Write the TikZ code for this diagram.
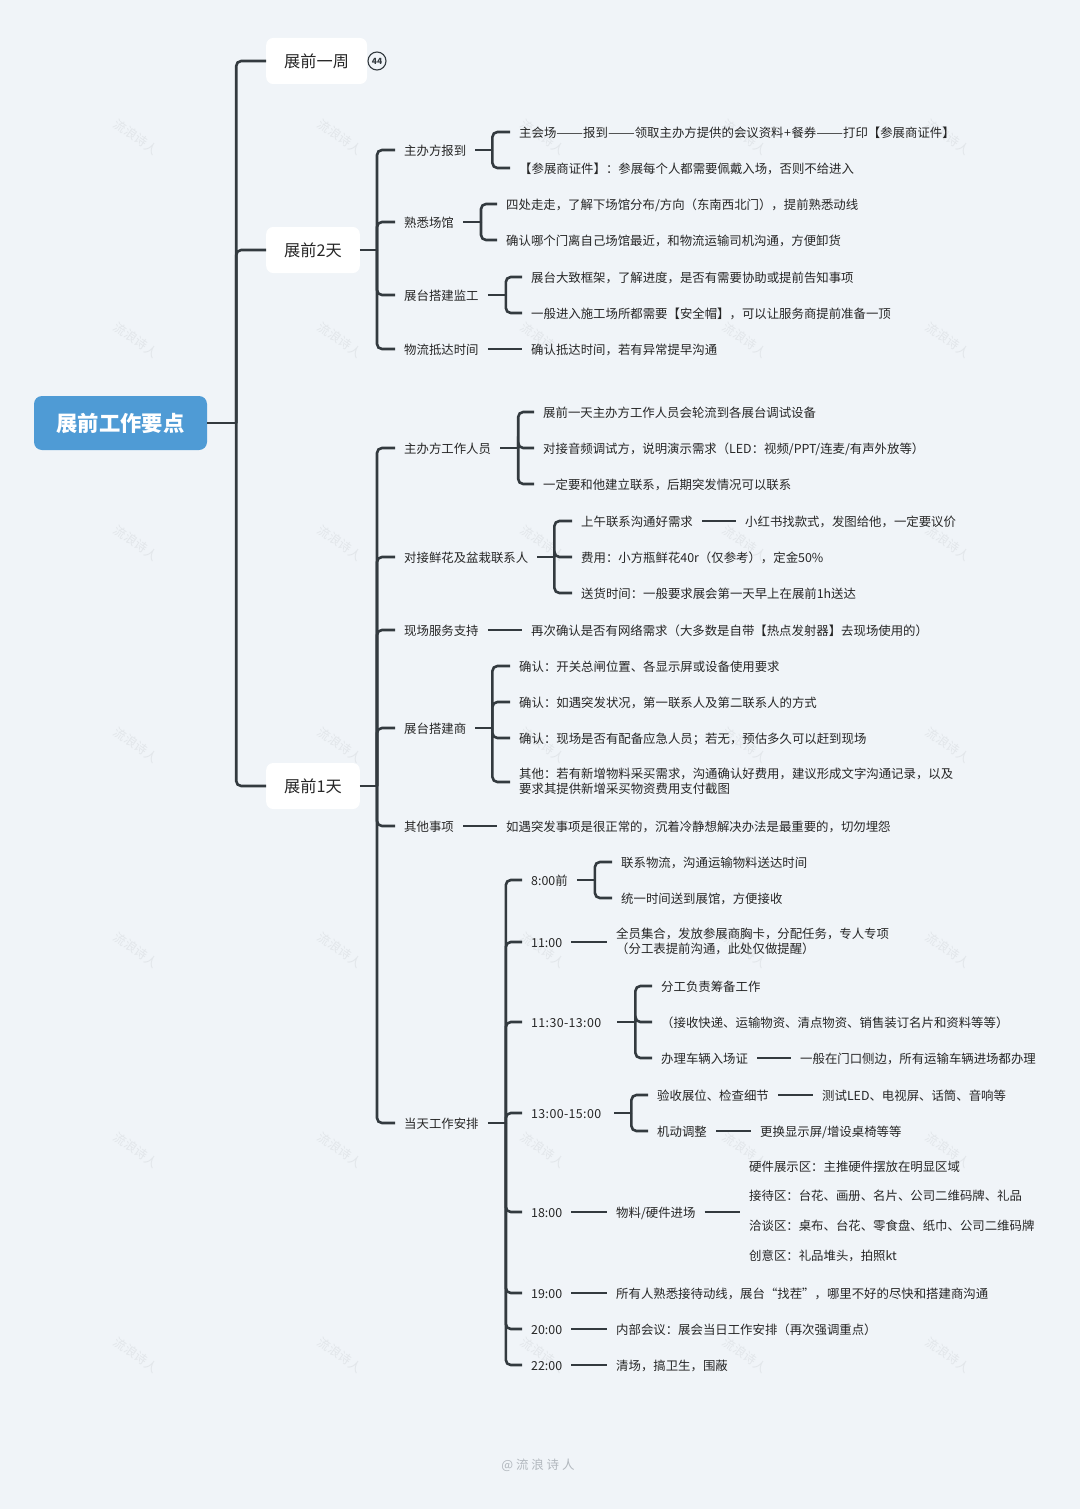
\documentclass[tikz,border=0pt]{standalone}
\usepackage{fontspec}
\setmainfont{Noto Sans CJK SC}
\usepackage{xcolor}
\usepackage{graphicx}
\usetikzlibrary{positioning,calc}
\definecolor{pagebg}{RGB}{240,244,248}
\definecolor{rootblue}{RGB}{79,155,213}
\definecolor{linedark}{RGB}{51,58,63}
\definecolor{inkdark}{RGB}{38,38,38}
\definecolor{markgray}{RGB}{226,230,234}
\definecolor{signgray}{RGB}{178,184,190}
\newcommand{\forkto}[3]{\draw[link] (#1.east) -- ++(#2,0) coordinate (#1spine);
  \foreach \kid in {#3} \draw[link] (#1spine) |- (\kid.west);}
\newcommand{\dashpair}{\scalebox{1.29}[1]{——}}
\newcommand{\widetime}[1]{{\addfontfeature{LetterSpace=3}#1}}
\tikzset{
  rootbox/.style={fill=rootblue,rounded corners=8pt,minimum width=173pt,minimum height=54pt,inner sep=0pt,text=white,font=\fontsize{21.3}{26}\selectfont\bfseries},
  topicbox/.style={fill=white,rounded corners=7pt,anchor=west,minimum height=46pt,inner xsep=18pt,inner ysep=0pt,text=inkdark,font=\fontsize{16.2}{20}\selectfont},
  itembox/.style={anchor=west,inner xsep=9pt,inner ysep=1pt,align=left,text=inkdark,font=\fontsize{12.4}{15}\selectfont,execute at begin node={\rule[-3pt]{0pt}{16pt}}},
  link/.style={line width=2.6pt,draw=linedark,rounded corners=5pt},
  wmark/.style={rotate=-35,text=markgray,font=\fontsize{12.5}{15}\selectfont},
}
\begin{document}
\begin{tikzpicture}[x=1pt,y=-1pt]
  \fill[pagebg] (0,0) rectangle (1080,1509);
  \useasboundingbox (0,0) rectangle (1080,1509);
  % watermarks
  \foreach \mx in {136,340,543,745,948}
    \foreach \my in {137,340,543,745,950,1150,1355}
      \node[wmark] (mark\mx\my) at (\mx,\my) {流浪诗人};
  \node[font=\fontsize{12.5}{15}\selectfont,text=signgray] (sign) at (538,1465) {@ 流 浪 诗 人};
  % root and day topics
  \node[rootbox] (root) at (120.5,423) {展前工作要点};
  \node[topicbox] (week) at (266,61) {展前一周};
  \node[draw=linedark,circle,line width=1.1pt,minimum size=18pt,inner sep=0pt,text=linedark,font=\fontsize{8.5}{10}\selectfont\bfseries] (weekmark) at (377,61) {44};
  \node[topicbox] (twoday) at (266,250) {展前2天};
  \node[topicbox] (oneday) at (266,786) {展前1天};
  \forkto{root}{29}{week,twoday,oneday}
  % two days before
  \node[itembox] (host) at (395,150) {主办方报到};
  \node[itembox] (hostA) at (510,132) {主会场\dashpair 报到\dashpair 领取主办方提供的会议资料{\kern.5pt+\kern.5pt}餐券\dashpair 打印【参展商证件】};
  \node[itembox] (hostB) at (510,168) {【参展商证件】：参展每个人都需要佩戴入场，否则不给进入};
  \node[itembox] (venue) at (395,222) {熟悉场馆};
  \node[itembox] (venueA) at (497,204) {四处走走，了解下场馆分布/方向（东南西北门），提前熟悉动线};
  \node[itembox] (venueB) at (497,240) {确认哪个门离自己场馆最近，和物流运输司机沟通，方便卸货};
  \node[itembox] (build) at (395,295) {展台搭建监工};
  \node[itembox] (buildA) at (522,277) {展台大致框架，了解进度，是否有需要协助或提前告知事项};
  \node[itembox] (buildB) at (522,313) {一般进入施工场所都需要【安全帽】，可以让服务商提前准备一顶};
  \node[itembox] (ship) at (395,349) {物流抵达时间};
  \node[itembox] (shipA) at (522,349) {确认抵达时间，若有异常提早沟通};
  \forkto{twoday}{17}{host,venue,build,ship}
  \forkto{host}{17}{hostA,hostB}
  \forkto{venue}{18}{venueA,venueB}
  \forkto{build}{18}{buildA,buildB}
  \draw[link] (ship.east) -- (shipA.west);
  % one day before
  \node[itembox] (staff) at (395,448) {主办方工作人员};
  \node[itembox] (staffA) at (534,412) {展前一天主办方工作人员会轮流到各展台调试设备};
  \node[itembox] (staffB) at (534,448) {对接音频调试方，说明演示需求（LED：视频/PPT/连麦/有声外放等）};
  \node[itembox] (staffC) at (534,484) {一定要和他建立联系，后期突发情况可以联系};
  \node[itembox] (flower) at (395,557) {对接鲜花及盆栽联系人};
  \node[itembox] (flowerA) at (572,521) {上午联系沟通好需求};
  \node[itembox] (flowerAx) at (736,521) {小红书找款式，发图给他，一定要议价};
  \node[itembox] (flowerB) at (572,557) {费用：小方瓶鲜花40r（仅参考），定金50\%};
  \node[itembox] (flowerC) at (572,593) {送货时间：一般要求展会第一天早上在展前1h送达};
  \node[itembox] (onsite) at (395,630) {现场服务支持};
  \node[itembox] (onsiteA) at (522,630) {再次确认是否有网络需求（大多数是自带【热点发射器】去现场使用的）};
  \node[itembox] (booth) at (395,728) {展台搭建商};
  \node[itembox] (boothA) at (510,666) {确认：开关总闸位置、各显示屏或设备使用要求};
  \node[itembox] (boothB) at (510,702) {确认：如遇突发状况，第一联系人及第二联系人的方式};
  \node[itembox] (boothC) at (510,738) {确认：现场是否有配备应急人员；若无，预估多久可以赶到现场};
  \node[itembox] (boothD) at (510,782) {其他：若有新增物料采买需求，沟通确认好费用，建议形成文字沟通记录，以及\\要求其提供新增采买物资费用支付截图};
  \node[itembox] (other) at (395,826) {其他事项};
  \node[itembox] (otherA) at (497,826) {如遇突发事项是很正常的，沉着冷静想解决办法是最重要的，切勿埋怨};
  \node[itembox] (today) at (395,1123) {当天工作安排};
  \forkto{oneday}{17}{staff,flower,onsite,booth,other,today}
  \forkto{staff}{18}{staffA,staffB,staffC}
  \forkto{flower}{17}{flowerA,flowerB,flowerC}
  \forkto{booth}{17}{boothA,boothB,boothC,boothD}
  \draw[link] (flowerA.east) -- (flowerAx.west);
  \draw[link] (onsite.east) -- (onsiteA.west);
  \draw[link] (other.east) -- (otherA.west);
  % schedule of the day
  \node[itembox] (tEight) at (522,880) {8:00前};
  \node[itembox] (tEightA) at (612,862) {联系物流，沟通运输物料送达时间};
  \node[itembox] (tEightB) at (612,898) {统一时间送到展馆，方便接收};
  \node[itembox] (tEleven) at (522,942) {11:00};
  \node[itembox] (tElevenA) at (607,942) {全员集合，发放参展商胸卡，分配任务，专人专项\\（分工表提前沟通，此处仅做提醒）};
  \node[itembox,text width=77pt] (tNoon) at (522,1022) {\widetime{11:30-13:00}};
  \node[itembox] (tNoonA) at (652,986) {分工负责筹备工作};
  \node[itembox] (tNoonB) at (652,1022) {（接收快递、运输物资、清点物资、销售装订名片和资料等等）};
  \node[itembox] (tNoonC) at (652,1058) {办理车辆入场证};
  \node[itembox] (tNoonCx) at (791,1058) {一般在门口侧边，所有运输车辆进场都办理};
  \node[itembox,text width=74pt] (tAfter) at (522,1113) {\widetime{13:00-15:00}};
  \node[itembox] (tAfterA) at (648,1095) {验收展位、检查细节};
  \node[itembox] (tAfterAx) at (813,1095) {测试LED、电视屏、话筒、音响等};
  \node[itembox] (tAfterB) at (648,1131) {机动调整};
  \node[itembox] (tAfterBx) at (751,1131) {更换显示屏/增设桌椅等等};
  \node[itembox] (tEve) at (522,1212) {18:00};
  \node[itembox] (tEveA) at (607,1212) {物料/硬件进场};
  \node[itembox,font=\fontsize{12.4}{29.7}\selectfont] (tEveB) at (740,1212) {硬件展示区：主推硬件摆放在明显区域\\接待区：台花、画册、名片、公司二维码牌、礼品\\洽谈区：桌布、台花、零食盘、纸巾、公司二维码牌\\创意区：礼品堆头，拍照kt};
  \node[itembox] (tSeven) at (522,1293) {19:00};
  \node[itembox] (tSevenA) at (607,1293) {所有人熟悉接待动线，展台“找茬”，哪里不好的尽快和搭建商沟通};
  \node[itembox] (tTwenty) at (522,1329) {20:00};
  \node[itembox] (tTwentyA) at (607,1329) {内部会议：展会当日工作安排（再次强调重点）};
  \node[itembox] (tLate) at (522,1365) {22:00};
  \node[itembox] (tLateA) at (607,1365) {清场，搞卫生，围蔽};
  \forkto{today}{18}{tEight,tEleven,tNoon,tAfter,tEve,tSeven,tTwenty,tLate}
  \forkto{tEight}{18}{tEightA,tEightB}
  \forkto{tNoon}{18}{tNoonA,tNoonB,tNoonC}
  \forkto{tAfter}{17}{tAfterA,tAfterB}
  \draw[link] (tEleven.east) -- (tElevenA.west);
  \draw[link] (tNoonC.east) -- (tNoonCx.west);
  \draw[link] (tAfterA.east) -- (tAfterAx.west);
  \draw[link] (tAfterB.east) -- (tAfterBx.west);
  \draw[link] (tEve.east) -- (tEveA.west);
  \draw[link] (tEveA.east) -- (tEveB.west);
  \draw[link] (tSeven.east) -- (tSevenA.west);
  \draw[link] (tTwenty.east) -- (tTwentyA.west);
  \draw[link] (tLate.east) -- (tLateA.west);
\end{tikzpicture}
\end{document}
